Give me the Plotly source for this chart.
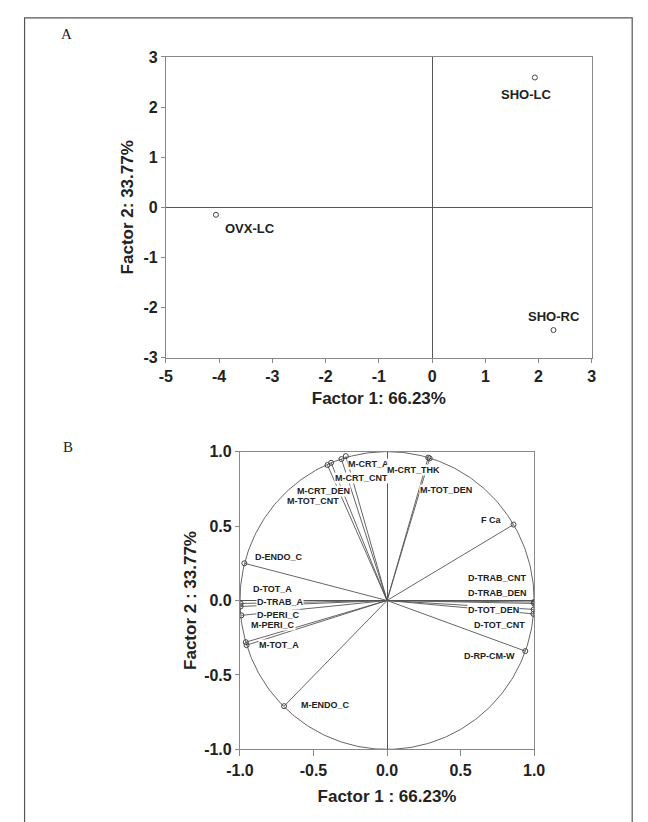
import plotly.graph_objects as go
import numpy as np

# ---------------- data ----------------
# Panel A: factor scores
score_names = ["SHO-LC", "OVX-LC", "SHO-RC"]
score_f1 = [1.93, -4.06, 2.28]
score_f2 = [2.59, -0.15, -2.45]

# Panel B: variable loadings
load_names = ["M-CRT_A", "M-CRT_CNT", "M-CRT_DEN", "M-TOT_CNT", "M-CRT_THK", "M-TOT_DEN",
              "F Ca", "D-ENDO_C", "D-TOT_A", "D-TRAB_A", "D-PERI_C", "M-PERI_C", "M-TOT_A",
              "M-ENDO_C", "D-TRAB_CNT", "D-TRAB_DEN", "D-TOT_DEN", "D-TOT_CNT", "D-RP-CM-W"]
load_f1 = [-0.28, -0.31, -0.38, -0.405, 0.28, 0.29,
           0.86, -0.97, -0.995, -0.995, -0.99, -0.96, -0.955,
           -0.70, 0.999, 0.999, 0.997, 0.995, 0.94]
load_f2 = [0.97, 0.95, 0.925, 0.91, 0.96, 0.955,
           0.51, 0.25, -0.02, -0.04, -0.10, -0.28, -0.30,
           -0.71, -0.01, -0.02, -0.06, -0.09, -0.34]

ticks_a_x = [-5, -4, -3, -2, -1, 0, 1, 2, 3]
ticks_a_x_text = ["-5", "-4", "-3", "-2", "-1", "0", "1", "2", "3"]
ticks_a_y = [-3, -2, -1, 0, 1, 2, 3]
ticks_a_y_text = ["-3", "-2", "-1", "0", "1", "2", "3"]
ticks_b = [-1.0, -0.5, 0.0, 0.5, 1.0]
ticks_b_text = ["-1.0", "-0.5", "0.0", "0.5", "1.0"]

# ---------------- styling ----------------
W, H = 648, 822
FONT = "Liberation Sans, Arial, sans-serif"
TXT = "#222222"
score_offsets = {"SHO-LC": (-9, -17), "OVX-LC": (34, -14), "SHO-RC": (1, 14)}
load_offsets = {
    "M-CRT_A": (23, -8), "M-CRT_CNT": (20, -19), "M-CRT_DEN": (-8, -28), "M-TOT_CNT": (-14, -36),
    "M-CRT_THK": (-15, -12), "M-TOT_DEN": (16, -32), "F Ca": (-23, 5), "D-ENDO_C": (35, 6),
    "D-TOT_A": (32, 14), "D-TRAB_A": (39, 4), "D-PERI_C": (37, 0), "M-PERI_C": (27, 17),
    "M-TOT_A": (32, 0), "M-ENDO_C": (41, 1), "D-TRAB_CNT": (-37, 24), "D-TRAB_DEN": (-36, 10),
    "D-TOT_DEN": (-40, -1), "D-TOT_CNT": (-34, -11), "D-RP-CM-W": (-36, -5),
}

fig = go.Figure()

# Panel A points
fig.add_trace(go.Scatter(x=score_f1, y=score_f2, mode="markers", xaxis="x", yaxis="y",
                         marker=dict(symbol="circle-open", size=5, color="#444444", line=dict(width=1)),
                         showlegend=False, hoverinfo="skip"))

# Panel B: unit circle
th = np.linspace(0, 2 * np.pi, 361)
fig.add_trace(go.Scatter(x=np.cos(th), y=np.sin(th), mode="lines", xaxis="x2", yaxis="y2",
                         line=dict(color="#555555", width=0.9), showlegend=False, hoverinfo="skip"))
# Panel B: loading vectors
for nx, ny in zip(load_f1, load_f2):
    fig.add_trace(go.Scatter(x=[0, nx], y=[0, ny], mode="lines", xaxis="x2", yaxis="y2",
                             line=dict(color="#555555", width=0.9), showlegend=False, hoverinfo="skip"))
fig.add_trace(go.Scatter(x=load_f1, y=load_f2, mode="markers", xaxis="x2", yaxis="y2",
                         marker=dict(symbol="circle-open", size=5, color="#444444", line=dict(width=1)),
                         showlegend=False, hoverinfo="skip"))

ann = []
for n, x, y in zip(score_names, score_f1, score_f2):
    dx, dy = score_offsets[n]
    ann.append(dict(x=x, y=y, xref="x", yref="y", text=n, showarrow=False, xshift=dx, yshift=dy,
                    xanchor="center", yanchor="middle",
                    font=dict(family=FONT, size=13, color=TXT, weight="bold")))
for n, x, y in zip(load_names, load_f1, load_f2):
    dx, dy = load_offsets[n]
    ann.append(dict(x=x, y=y, xref="x2", yref="y2", text=n, showarrow=False, xshift=dx, yshift=dy,
                    xanchor="center", yanchor="middle", bgcolor="white", borderpad=0,
                    font=dict(family=FONT, size=9, color=TXT, weight="bold")))
ann.append(dict(x=55 / W, y=1 - 27 / H, xref="paper", yref="paper", text="A", showarrow=False,
                xanchor="center", yanchor="middle",
                font=dict(family="Liberation Serif, Times New Roman, serif", size=15, color=TXT)))
ann.append(dict(x=56 / W, y=1 - 448 / H, xref="paper", yref="paper", text="B", showarrow=False,
                xanchor="center", yanchor="middle",
                font=dict(family="Liberation Serif, Times New Roman, serif", size=15, color=TXT)))

tickfont = dict(family=FONT, size=16, color=TXT, weight="bold")
titlefont = dict(family=FONT, size=17, color=TXT, weight="bold")
axcommon = dict(showgrid=False, showline=True, mirror=True, linecolor="#888888", linewidth=1,
                ticks="outside", tickcolor="#888888", zeroline=True,
                zerolinecolor="#555555", zerolinewidth=1, tickfont=tickfont)

fig.update_layout(
    width=W, height=H, margin=dict(l=0, r=0, t=0, b=0),
    paper_bgcolor="white", plot_bgcolor="white",
    xaxis=dict(domain=[158 / W, 601 / W], range=[-5, 3], tickvals=ticks_a_x, ticktext=ticks_a_x_text,
               anchor="y", ticklen=4, title=dict(text="Factor 1: 66.23%", font=titlefont, standoff=8), **axcommon),
    yaxis=dict(domain=[1 - 357 / H, 1 - 50 / H], range=[-3, 3], tickvals=ticks_a_y, ticktext=ticks_a_y_text,
               anchor="x", ticklen=4, title=dict(text="Factor 2: 33.77%", font=titlefont, standoff=5), **axcommon),
    xaxis2=dict(domain=[235 / W, 541 / W], range=[-1, 1], tickvals=ticks_b, ticktext=ticks_b_text,
                anchor="y2", ticklen=6, title=dict(text="Factor 1 : 66.23%", font=titlefont, standoff=12), **axcommon),
    yaxis2=dict(domain=[1 - 757 / H, 1 - 453 / H], range=[-1, 1], tickvals=ticks_b, ticktext=ticks_b_text,
                anchor="x2", ticklen=4, title=dict(text="Factor 2 : 33.77%", font=titlefont, standoff=3), **axcommon),
    annotations=ann,
    shapes=[dict(type="rect", xref="paper", yref="paper", x0=11 / W, x1=643 / W, y0=-0.05, y1=1 - 10 / H,
                 line=dict(color="#555555", width=1.2), fillcolor="rgba(0,0,0,0)", layer="below")],
)

fig.write_html("out.html", config={"displayModeBar": False},
               post_script="document.body.style.margin='0';document.body.style.padding='0';"
                           "document.documentElement.style.overflow='hidden';")
